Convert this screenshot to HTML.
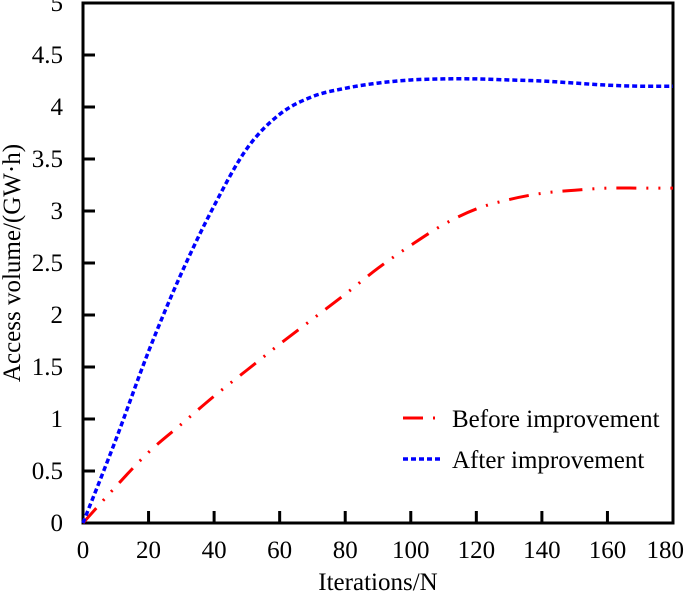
<!DOCTYPE html>
<html><head><meta charset="utf-8"><style>
body{margin:0;background:#fff}
svg{display:block;font-family:"Liberation Serif",serif}
</style></head><body>
<svg id="chart" width="685" height="595"></svg>
<script>
const xVals=[0,10,20,30,40,50,60,70,80,90,100,110,120,130,140,150,160,170,180];
const afterVals=[0,0.8,1.65,2.4,3.05,3.6,3.93,4.1,4.18,4.23,4.26,4.27,4.27,4.26,4.25,4.23,4.21,4.2,4.2];
const beforeVals=[0,0.35,0.68,0.95,1.22,1.47,1.72,1.96,2.2,2.45,2.67,2.87,3.02,3.11,3.17,3.2,3.22,3.22,3.22];
const xTicks=[0,20,40,60,80,100,120,140,160,180];
const yTicks=[0,0.5,1,1.5,2,2.5,3,3.5,4,4.5,5];
const L=83,R=673,T=3,B=523;
const sx=v=>L+(v/180)*(R-L), sy=v=>B-(v/5)*(B-T);
const svg=document.getElementById('chart');const NS='http://www.w3.org/2000/svg';
function mk(t,a,p){const e=document.createElementNS(NS,t);for(const k in a)e.setAttribute(k,a[k]);(p||svg).appendChild(e);return e;}
const frame=mk('rect',{x:L,y:T,width:R-L,height:B-T,fill:'none',stroke:'#000','stroke-width':3});


xTicks.forEach((v,i)=>{const x=sx(v);
 const t=mk('line',{x1:x,x2:x,y1:B,y2:B-12,stroke:'#000','stroke-width':3});
 
 
 const last=i===xTicks.length-1;
 const l=mk('text',{x:last?684:x,y:B+35,'font-size':25,'text-anchor':last?'end':'middle'});l.textContent=v;
 
 });
yTicks.forEach(v=>{const y=sy(v);
 const t=mk('line',{x1:L,x2:L+12,y1:y,y2:y,stroke:'#000','stroke-width':3});
 
 
 const l=mk('text',{x:63,y:y+8,'font-size':25,'text-anchor':'end'});l.textContent=v;
 
 });
function path(vals){const p=xVals.map((x,i)=>[sx(x),sy(vals[i])]);let d='M'+p[0];
 for(let i=0;i<p.length-1;i++){const p0=p[i-1]||p[i],p1=p[i],p2=p[i+1],p3=p[i+2]||p2;
  d+=' C'+(p1[0]+(p2[0]-p0[0])/6)+','+(p1[1]+(p2[1]-p0[1])/6)+' '+(p2[0]-(p3[0]-p1[0])/6)+','+(p2[1]-(p3[1]-p1[1])/6)+' '+p2;}
 return d;}
const red=mk('path',{d:path(beforeVals),fill:'none',stroke:'#f00','stroke-width':3,'stroke-dasharray':'20 10 2 10 2 10'});


const blue=mk('path',{d:path(afterVals),fill:'none',stroke:'#00f','stroke-width':3.5,'stroke-dasharray':'5 3'});


const lg=mk('g',{});
const l1=mk('line',{x1:403,x2:442,y1:418,y2:418,stroke:'#f00','stroke-width':3,'stroke-dasharray':'20 10 2 10'},lg);

const t1=mk('text',{x:452,y:427,'font-size':25},lg);t1.textContent='Before improvement';

const l2=mk('line',{x1:403,x2:442,y1:459,y2:459,stroke:'#00f','stroke-width':3.5,'stroke-dasharray':'5 3'},lg);

const t2=mk('text',{x:452,y:468,'font-size':25},lg);t2.textContent='After improvement';

const xt=mk('text',{x:(L+R)/2,y:590,'font-size':25,'text-anchor':'middle'});xt.textContent='Iterations/N';

const yt=mk('text',{x:0,y:0,'font-size':25,'text-anchor':'middle',transform:'translate(20,263) rotate(-90)'});yt.textContent='Access volume/(GW·h)';

</script>
</body></html>
